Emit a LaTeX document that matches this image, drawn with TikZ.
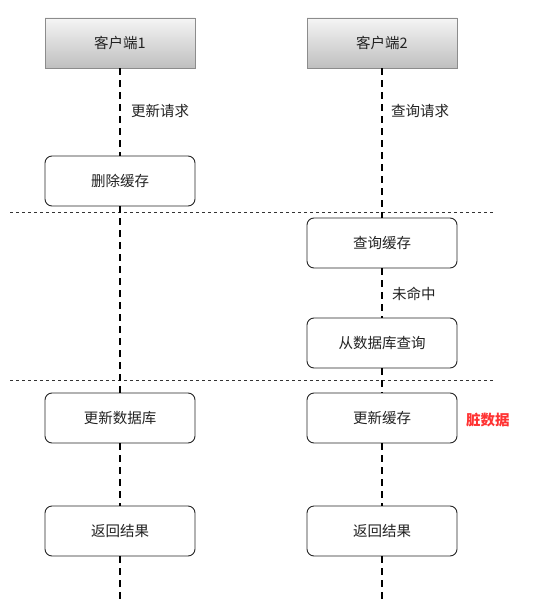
\documentclass[tikz,border=0pt]{standalone}
\usepackage{fontspec}
\setmainfont{Noto Sans CJK SC}
\usetikzlibrary{backgrounds}
\definecolor{dirty}{HTML}{FF3333}
\definecolor{txt}{HTML}{222222}
\tikzset{
  headbox/.style={draw=black!45, line width=0.8pt, top color=black!4, bottom color=black!25,
    minimum width=150pt, minimum height=50pt, inner sep=0pt, font=\fontsize{14.5}{16}\selectfont, text=txt},
  stepbox/.style={draw=black!85, line width=0.9pt, rounded corners=7pt, fill=white,
    minimum width=150pt, minimum height=50pt, inner sep=0pt, font=\fontsize{14.5}{16}\selectfont, text=txt},
  lifeline/.style={line width=2pt, dash pattern=on 7pt off 5pt},
  sepline/.style={line width=0.7pt, black!80, dash pattern=on 3pt off 3pt},
  lbl/.style={font=\fontsize{14.5}{16}\selectfont, text=txt, anchor=west, inner sep=0pt}
}
\begin{document}
\begin{tikzpicture}[x=1pt,y=-1pt]
\useasboundingbox[fill=white] (0,0) rectangle (543,604);
% headers
\node[headbox] (h1) at (120,43) {客户端1};
\node[headbox] (h2) at (382,43) {客户端2};
% client 1 steps
\node[stepbox] (del) at (120,181) {删除缓存};
\node[stepbox] (upd) at (120,418) {更新数据库};
\node[stepbox] (ret1) at (120,531) {返回结果};
\coordinate (e1) at (120,600);
% client 2 steps
\node[stepbox] (qc) at (382,243) {查询缓存};
\node[stepbox] (db) at (382,343) {从数据库查询};
\node[stepbox] (uc) at (382,418) {更新缓存};
\node[stepbox] (ret2) at (382,531) {返回结果};
\coordinate (e2) at (382,600);
% separators
\coordinate (s1a) at (10,212); \coordinate (s1b) at (494,212);
\coordinate (s2a) at (10,380); \coordinate (s2b) at (494,380);
\draw[sepline] (s1a) -- (s1b);
\draw[sepline] (s2a) -- (s2b);
% lifelines
\draw[lifeline] (h1.south) -- (del.north);
\draw[lifeline] (del.south) -- (upd.north);
\draw[lifeline] (upd.south) -- (ret1.north);
\draw[lifeline] (ret1.south) -- (e1);
\draw[lifeline] (h2.south) -- (qc.north);
\draw[lifeline] (qc.south) -- (db.north);
\draw[lifeline] (db.south) -- (uc.north);
\draw[lifeline] (uc.south) -- (ret2.north);
\draw[lifeline] (ret2.south) -- (e2);
% labels
\node[lbl] (l1) at (131,111) {更新请求};
\node[lbl] (l2) at (391,111) {查询请求};
\node[lbl] (l3) at (392,294) {未命中};
\node[lbl, text=dirty, font=\fontsize{14.5}{16}\selectfont\bfseries] (l4) at (466,420) {脏数据};
\end{tikzpicture}
\end{document}
